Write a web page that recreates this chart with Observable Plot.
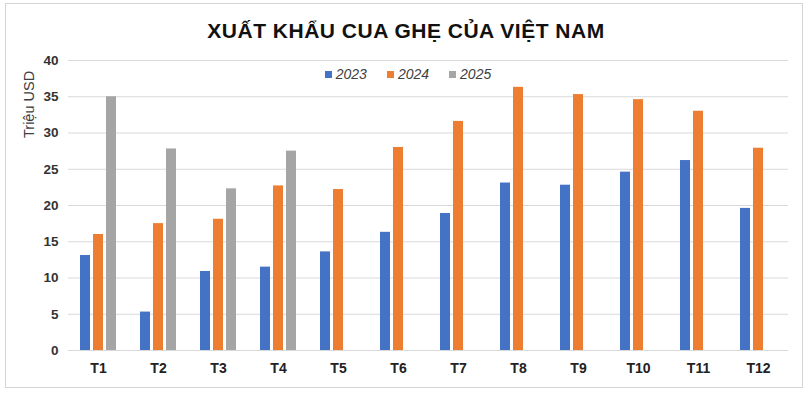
<!DOCTYPE html>
<html>
<head>
<meta charset="utf-8">
<script src="https://cdn.jsdelivr.net/npm/d3@7"></script>
<script src="https://cdn.jsdelivr.net/npm/@observablehq/plot@0.6"></script>
<style>
  body { margin: 0; background: #fff; font-family: "Liberation Sans", Arial, sans-serif; }
  #wrap { position: relative; width: 812px; height: 398px; overflow: hidden; }
  #frame { position: absolute; left: 5px; top: 3px; width: 798px; height: 385px; border: 1px solid #d4d4d4; box-sizing: border-box; }
  #title { position: absolute; left: 0; width: 812px; top: 19px; text-align: center; font-weight: bold; font-size: 21px; color: #111; letter-spacing: 0.5px; }
  #legend { position: absolute; top: 66px; left: 0; width: 812px; display: flex; justify-content: center; gap: 20px; font-size: 14px; font-style: italic; color: #404040; margin-left: 2px; }
  #legend span.sw { display: inline-block; width: 7px; height: 7px; margin-right: 4px; vertical-align: 1px; }
  #yl { position: absolute; left: 21px; top: 138px; transform-origin: left top; transform: rotate(-90deg); font-size: 14.5px; line-height: 16px; color: #404040; white-space: nowrap; }
  #chart { position: absolute; left: 0; top: 0; }
</style>
</head>
<body>
<div id="wrap">
  <div id="frame"></div>
  <div id="chart"></div>
  <div id="title">XUẤT KHẨU CUA GHẸ CỦA VIỆT NAM</div>
  <div id="legend"></div>
  <div id="yl">Triệu USD</div>
</div>
<script>
const months = ["T1","T2","T3","T4","T5","T6","T7","T8","T9","T10","T11","T12"];
const years = ["2023","2024","2025"];
const colors = ["#4472C4","#ED7D31","#A5A5A5"];
const v2023 = [13.1, 5.3, 10.9, 11.5, 13.6, 16.3, 18.9, 23.1, 22.8, 24.6, 26.2, 19.6];
const v2024 = [16.0, 17.5, 18.1, 22.7, 22.2, 28.0, 31.6, 36.3, 35.3, 34.6, 33.0, 27.9];
const v2025 = [35.0, 27.8, 22.3, 27.5];
const yTicks = [0, 5, 10, 15, 20, 25, 30, 35, 40];

const rows = [];
[v2023, v2024, v2025].forEach((arr, i) => {
  arr.forEach((v, j) => rows.push({month: months[j], year: years[i], value: v}));
});

const chart = Plot.plot({
  width: 812,
  height: 398,
  marginTop: 60,
  marginBottom: 48,
  marginLeft: 68,
  marginRight: 24,
  style: {fontFamily: "Liberation Sans, Arial, sans-serif", background: "transparent"},
  fx: {domain: months, padding: 0, label: null, axis: null},
  x: {domain: years, paddingInner: 0.26, paddingOuter: 0.8, axis: null},
  y: {domain: [0, 40], label: null, axis: null},
  color: {domain: years, range: colors},
  marks: [
    Plot.gridY(yTicks, {stroke: "#d9d9d9", strokeOpacity: 1, strokeWidth: 1}),
    Plot.barY(rows, {fx: "month", x: "year", y: "value", fill: "year"}),
    Plot.axisFx({anchor: "bottom", tickSize: 0, tickPadding: 13, fontSize: 14, fontWeight: "bold", fill: "#222", label: null}),
    Plot.axisY(yTicks, {tickSize: 0, tickPadding: 10, fontSize: 13.5, fontWeight: "bold", fill: "#333", label: null})
  ]
});
document.getElementById("chart").appendChild(chart);

const lg = document.getElementById("legend");
years.forEach((y, i) => {
  const d = document.createElement("div");
  d.innerHTML = `<span class="sw" style="background:${colors[i]}"></span>${y}`;
  lg.appendChild(d);
});
</script>
</body>
</html>
